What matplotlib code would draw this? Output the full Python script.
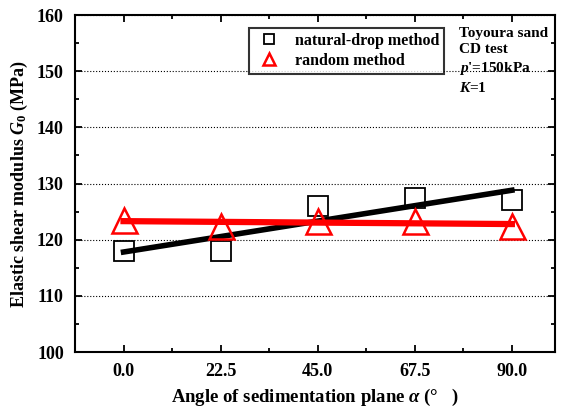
import numpy as np
import matplotlib.pyplot as plt

# datos
angulos = [0.0, 22.5, 45.0, 67.5, 90.0]
g0_natural = [118.0, 118.0, 126.0, 127.5, 127.0]
g0_random = [123.5, 122.5, 123.4, 123.4, 122.4]

plt.rcParams['font.family'] = ['Liberation Serif', 'DejaVu Serif']
plt.rcParams['font.weight'] = 'bold'
plt.rcParams['mathtext.fontset'] = 'custom'
plt.rcParams['mathtext.it'] = 'Liberation Serif:italic:bold'
plt.rcParams['mathtext.rm'] = 'Liberation Serif:bold'

fig = plt.figure(figsize=(5.64, 4.09), dpi=100)
ax = fig.add_axes([75/564, 1-352/409, 480/564, 337/409])

x = np.array(angulos)
# lineas de ajuste lineal
p1 = np.polyfit(x, g0_natural, 1)
p2 = np.polyfit(x, g0_random, 1)
ax.plot(x, np.polyval(p1, x), color='black', lw=4, zorder=2)
ax.plot(x, np.polyval(p2, x), color='red', lw=4.5, zorder=3)

ax.plot(x, g0_natural, 's', ms=14, mfc='none', mec='black', mew=1.3,
        ls='none', label='natural-drop method', zorder=4)
ax.plot(x, g0_random, '^', ms=18, mfc='none', mec='red', mew=1.8,
        ls='none', label='random method', zorder=4)

ax.set_xlim(-11.25, 100)
ax.set_ylim(100, 160)
ax.set_xticks(angulos)
ax.set_xticklabels(['0.0', '22.5', '45.0', '67.5', '90.0'])
ax.set_xticks(np.arange(-11.25, 100, 11.25), minor=True)
ax.set_yticks(np.arange(100, 161, 10))
ax.set_yticks(np.arange(100, 161, 5), minor=True)
ax.yaxis.grid(True, ls=':', color='black', lw=0.8)
ax.tick_params(which='both', direction='in', top=True, right=True, labelsize=13, width=1.3)
ax.tick_params(which='major', length=5, pad=8)
ax.tick_params(which='minor', length=3)
for s in ax.spines.values():
    s.set_linewidth(1.5)

ax.set_xlabel(r'Angle of sedimentation plane $\alpha$ ($\degree$   )', fontsize=13.5, fontweight='bold', labelpad=5)
ax.set_ylabel(r'Elastic shear modulus $G_0$ (MPa)', fontsize=13, fontweight='bold', labelpad=5)

leg = ax.legend(loc='upper left', bbox_to_anchor=(0.345, 0.985), fontsize=11.5,
                frameon=True, fancybox=False, edgecolor='black', markerscale=0.5,
                handletextpad=0.6, borderpad=0.3, labelspacing=0.25)
leg.get_frame().set_linewidth(1.5)

ax.text(0.80, 0.965, 'Toyoura sand\nCD test\n$p$\'=150kPa\n$K$=1', transform=ax.transAxes,
        va='top', ha='left', fontsize=11, fontweight='bold', linespacing=1.35)

plt.savefig('out.png', dpi=100)
